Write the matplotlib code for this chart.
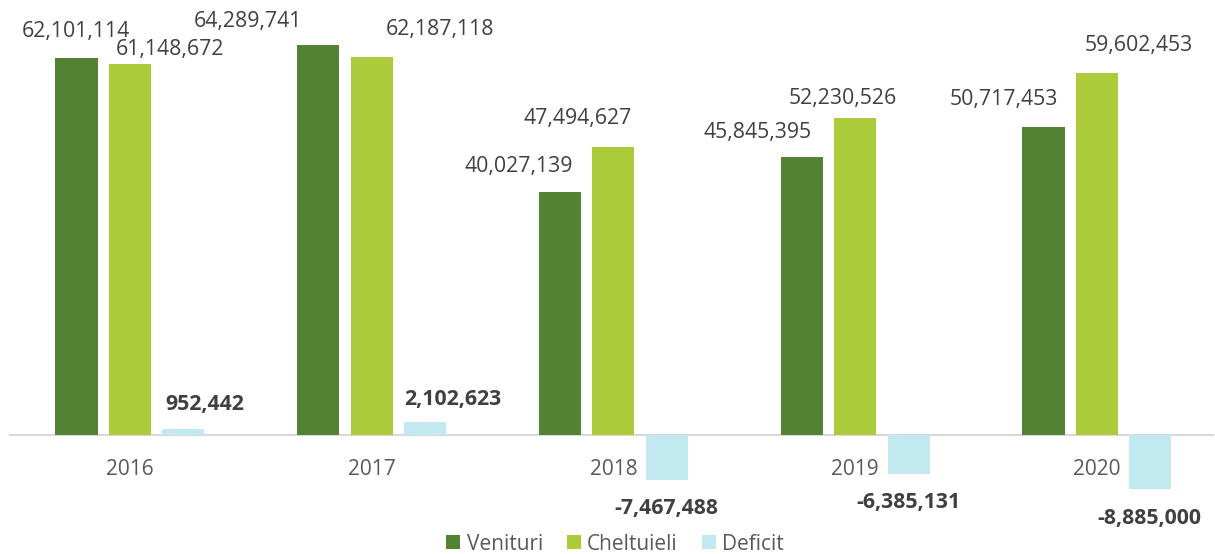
import numpy as np
import matplotlib.pyplot as plt

# date grafic
ani = ['2016', '2017', '2018', '2019', '2020']
venituri = [62101114, 64289741, 40027139, 45845395, 50717453]
cheltuieli = [61148672, 62187118, 47494627, 52230526, 59602453]
deficit = [952442, 2102623, -7467488, -6385131, -8885000]

c_ven = '#548235'
c_chel = '#ABCB3A'
c_def = '#C2E8F0'

# deplasarea etichetelor (pixeli), ca in original
off_ven = [(-1, -26), (-70, -23), (-41, -26), (-44, -24), (-40, -28)]
off_chel = [(40, -14), (68, -28), (-36, -28), (-12, -19), (42, -28)]
off_def = [(21, -25), (28, -23), (0, 28), (0, 29), (-1, 30)]

plt.rcParams['font.family'] = ['Open Sans', 'DejaVu Sans']

fig = plt.figure(figsize=(12.15, 5.54), dpi=100)
px_per_unit = 377 / 62101114
ax = fig.add_axes([10 / 1215, 24 / 554, 1203 / 1215, 530 / 554])
ax.set_ylim(-(530 - 435) / px_per_unit, 435 / px_per_unit)
ax.set_xlim(-0.496, 4.480)

x = np.arange(len(ani))
w = 0.174
d = 0.221
b1 = ax.bar(x - d, venituri, w, color=c_ven, label='Venituri', zorder=3)
b2 = ax.bar(x, cheltuieli, w, color=c_chel, label='Cheltuieli', zorder=3)
b3 = ax.bar(x + d, deficit, w, color=c_def, label='Deficit', zorder=3)

for bars, vals, offs, bold in [(b1, venituri, off_ven, False),
                               (b2, cheltuieli, off_chel, False),
                               (b3, deficit, off_def, True)]:
    for bar, v, (dx, dy) in zip(bars, vals, offs):
        ax.annotate(f'{v:,}', (bar.get_x() + bar.get_width() / 2, v),
                    xytext=(dx, -dy), textcoords='offset pixels',
                    ha='center', va='center', fontsize=15.3,
                    fontweight='bold' if bold else 'normal', color='#404040')

for s in ['top', 'left', 'right']:
    ax.spines[s].set_visible(False)
ax.spines['bottom'].set_position(('data', 0))
ax.spines['bottom'].set_color('#D9D9D9')
ax.spines['bottom'].set_linewidth(1.5)
ax.spines['bottom'].set_zorder(2)
ax.set_yticks([])
ax.set_xticks(x)
ax.set_xticklabels(ani)
ax.tick_params(axis='x', length=0, pad=17, labelsize=15, labelcolor='#595959')

fig.legend(loc='center', bbox_to_anchor=(615 / 1215, 1 - 544 / 554), ncol=3,
           frameon=False, fontsize=15, labelcolor='#595959',
           handlelength=0.68, handleheight=0.68, handletextpad=0.3,
           columnspacing=1.15, borderpad=0)

plt.savefig('out.png', dpi=100)
